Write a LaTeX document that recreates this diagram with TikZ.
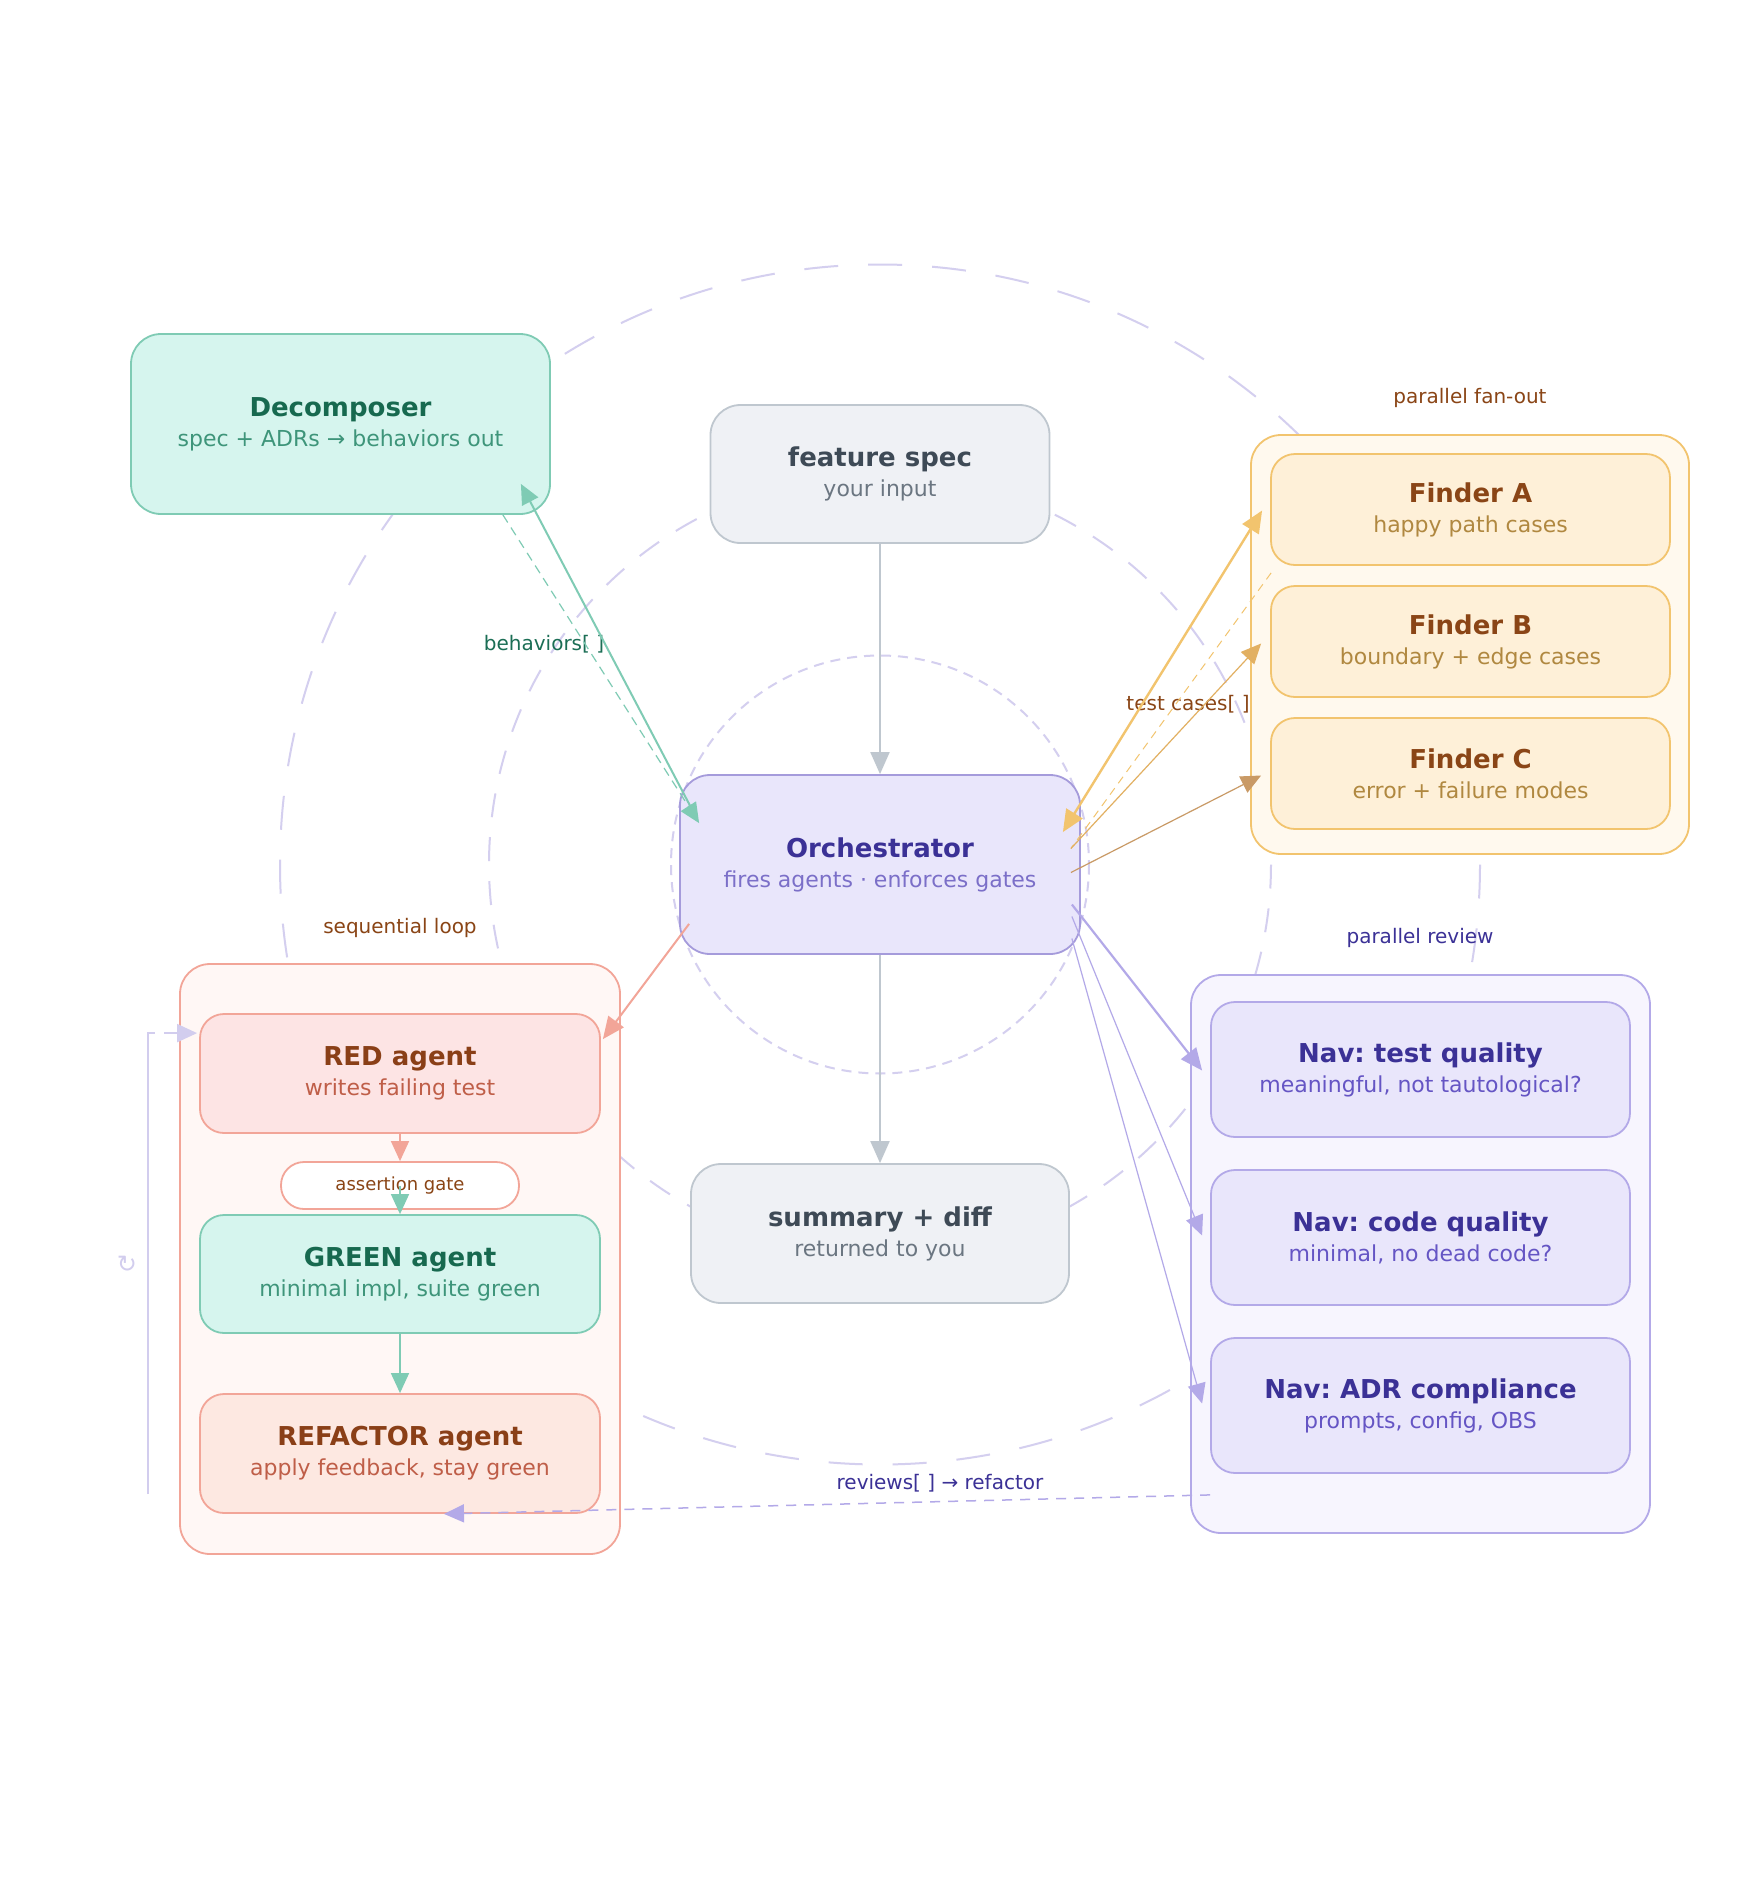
\documentclass[tikz,border=0pt]{standalone}
\usepackage{fontspec}
\setmainfont{DejaVu Sans}
\usetikzlibrary{arrows.meta,calc}
\pgfdeclarelayer{background}
\pgfsetlayers{background,main}
\frenchspacing
\definecolor{circc}{HTML}{D4CFEF}
\definecolor{decfill}{HTML}{D6F5EE}
\definecolor{greenln}{HTML}{7FCBB4}
\definecolor{dectitle}{HTML}{17694F}
\definecolor{decsub}{HTML}{3E957A}
\definecolor{specfill}{HTML}{EFF1F5}
\definecolor{specln}{HTML}{BFC7CF}
\definecolor{spectitle}{HTML}{3E4A56}
\definecolor{specsub}{HTML}{6B7681}
\definecolor{finfill}{HTML}{FFF9EE}
\definecolor{finln}{HTML}{F2C46E}
\definecolor{finbox}{HTML}{FEF0D8}
\definecolor{fintitle}{HTML}{8A4516}
\definecolor{finsub}{HTML}{B08840}
\definecolor{finBln}{HTML}{E2B062}
\definecolor{finCln}{HTML}{C99A66}
\definecolor{orchfill}{HTML}{E9E6FB}
\definecolor{orchln}{HTML}{A59BDB}
\definecolor{orchtitle}{HTML}{3B3196}
\definecolor{orchsub}{HTML}{7B6FC8}
\definecolor{seqfill}{HTML}{FFF7F5}
\definecolor{redln}{HTML}{F2A598}
\definecolor{redfill}{HTML}{FDE4E4}
\definecolor{refacfill}{HTML}{FDE8E1}
\definecolor{redtitle}{HTML}{8A3F17}
\definecolor{redsub}{HTML}{BF5E48}
\definecolor{navcfill}{HTML}{F7F5FE}
\definecolor{navln}{HTML}{B3A9E8}
\definecolor{navfill}{HTML}{E9E6FB}
\definecolor{navtitle}{HTML}{3B3196}
\definecolor{navsub}{HTML}{6555C4}
\definecolor{loopc}{HTML}{D2CDEE}
\definecolor{lblgreen}{HTML}{1B6E55}
\newcommand{\ttl}[2]{{\fontsize{26}{30}\selectfont\bfseries\color{#1}#2}}
\begin{document}
\begin{tikzpicture}[x=1pt,y=-1pt,
  bx/.style={draw, line width=1.8pt, align=center, inner sep=0pt, font=\fontsize{22}{30}\selectfont},
  bigbox/.style={bx, rounded corners=30pt},
  smallbox/.style={bx, rounded corners=24pt},
  contbox/.style={draw, line width=1.8pt, rounded corners=30pt, inner sep=0pt},
  lbl/.style={font=\fontsize{20}{24}\selectfont, inner sep=1pt},
  tip/.style={-{Triangle[length=22pt,width=19pt]}},
  stip/.style={-{Triangle[length=20pt,width=18pt]}},
]
\useasboundingbox (0,0) rectangle (1760,1880);

% containers
\node[contbox, fill=finfill, draw=finln, minimum width=438pt, minimum height=419pt] (fincont) at (1470,644.5) {};
\node[contbox, fill=seqfill, draw=redln, minimum width=440pt, minimum height=590pt] (seqcont) at (400,1259) {};
\node[contbox, fill=navcfill, draw=navln, minimum width=459pt, minimum height=558pt] (navcont) at (1420.5,1254) {};

% main boxes
\node[bigbox, fill=decfill, draw=greenln, text=decsub, minimum width=419pt, minimum height=180pt] (decomp) at (340.5,424) {\ttl{dectitle}{Decomposer}\\spec + ADRs → behaviors out};
\node[bigbox, fill=specfill, draw=specln, text=specsub, minimum width=339pt, minimum height=138pt] (spec) at (880,474) {\ttl{spectitle}{feature spec}\\your input};
\node[bigbox, fill=orchfill, draw=orchln, text=orchsub, minimum width=400pt, minimum height=179pt] (orch) at (880,864.5) {\ttl{orchtitle}{Orchestrator}\\fires agents · enforces gates};
\node[bigbox, fill=specfill, draw=specln, text=specsub, minimum width=378pt, minimum height=139pt] (summary) at (880,1233.5) {\ttl{spectitle}{summary + diff}\\returned to you};

% finders
\node[smallbox, fill=finbox, draw=finln, text=finsub, minimum width=399pt, minimum height=111pt] (finA) at (1470.5,509.5) {\ttl{fintitle}{Finder A}\\happy path cases};
\node[smallbox, fill=finbox, draw=finln, text=finsub, minimum width=399pt, minimum height=111pt] (finB) at (1470.5,641.5) {\ttl{fintitle}{Finder B}\\boundary + edge cases};
\node[smallbox, fill=finbox, draw=finln, text=finsub, minimum width=399pt, minimum height=111pt] (finC) at (1470.5,773.5) {\ttl{fintitle}{Finder C}\\error + failure modes};

% sequential loop
\node[smallbox, fill=redfill, draw=redln, text=redsub, minimum width=400pt, minimum height=119pt] (red) at (400,1073.5) {\ttl{redtitle}{RED agent}\\writes failing test};
\node[draw=redln, fill=white, line width=1.8pt, rounded corners=23pt, minimum width=238pt, minimum height=47pt, inner sep=0pt, text=fintitle, font=\fontsize{18}{22}\selectfont] (gate) at (400,1185.5) {assertion gate};
\node[smallbox, fill=decfill, draw=greenln, text=decsub, minimum width=400pt, minimum height=118pt] (green) at (400,1274) {\ttl{dectitle}{GREEN agent}\\minimal impl, suite green};
\node[smallbox, fill=refacfill, draw=redln, text=redsub, minimum width=400pt, minimum height=119pt] (refac) at (400,1453.5) {\ttl{redtitle}{REFACTOR agent}\\apply feedback, stay green};

% navigators
\node[smallbox, fill=navfill, draw=navln, text=navsub, minimum width=419pt, minimum height=135pt] (navT) at (1420.5,1069.5) {\ttl{navtitle}{Nav: test quality}\\meaningful, not tautological?};
\node[smallbox, fill=navfill, draw=navln, text=navsub, minimum width=419pt, minimum height=135pt] (navC) at (1420.5,1237.5) {\ttl{navtitle}{Nav: code quality}\\minimal, no dead code?};
\node[smallbox, fill=navfill, draw=navln, text=navsub, minimum width=419pt, minimum height=135pt] (navA) at (1420.5,1405.5) {\ttl{navtitle}{Nav: ADR compliance}\\prompts, config, OBS};

% labels
\node[lbl, text=fintitle] (fanlbl) at (1470,398) {parallel fan-out};
\node[lbl, text=navtitle] (revlbl) at (1420,938) {parallel review};
\node[lbl, text=fintitle] (seqlbl) at (400,928) {sequential loop};
\node[lbl, text=lblgreen] (behlbl) at (544,644) {behaviors[ ]};
\node[lbl, text=fintitle] (testlbl) at (1188,704) {test cases[ ]};
\node[lbl, text=navtitle] (reflbl) at (940,1483) {reviews[ ] → refactor};
\node[text=loopc, font=\fontsize{24}{26}\selectfont, inner sep=0pt] (loopsym) at (127,1264) {↻};

% background circles
\begin{pgfonlayer}{background}
\fill[white] (0,0) rectangle (1760,1880);
\draw[circc, line width=2pt, dash pattern=on 10pt off 7pt] (orch.center) circle[radius=209];
\draw[circc, line width=2pt, dash pattern=on 24pt off 20pt] (orch.center) circle[radius=391];
\draw[circc, line width=2pt, dash pattern=on 34pt off 30pt] (orch.center) circle[radius=600];
\end{pgfonlayer}

% connectors
\draw[tip, specln, line width=2pt] (spec.south) -- (orch.north);
\draw[tip, specln, line width=2pt] (orch.south) -- (summary.north);

\draw[stip, greenln, line width=2pt] ($(orch.north west)+(18,45)$) -- ($(decomp.south east)+(-30,-31)$);
\draw[stip, greenln, line width=1.2pt, dash pattern=on 9pt off 6pt] ($(decomp.south east)+(-48,0)$) -- ($(orch.north west)+(20,49)$);

\draw[{Triangle[length=22pt,width=19pt]}-{Triangle[length=22pt,width=19pt]}, finln, line width=2.4pt] ($(orch.north east)+(-18,58)$) -- ($(finA.west)+(-8,1)$);
\draw[finln, line width=1pt, dash pattern=on 8pt off 6pt] ($(finA.south west)+(1,7)$) -- ($(orch.east)+(-10,-16)$);
\draw[stip, finBln, line width=1.2pt] ($(orch.east)+(-10,-16)$) -- ($(finB.west)+(-9,2)$);
\draw[stip, finCln, line width=1.2pt] ($(orch.east)+(-10,8)$) -- ($(finC.west)+(-9,2)$);

\draw[tip, redln, line width=2pt] ($(orch.south west)+(10,-31)$) -- ($(red.north east)+(2,26)$);

\draw[tip, navln, line width=2.2pt] ($(orch.east)+(-9,40)$) -- ($(navT.west)+(-8,1)$);
\draw[stip, navln, line width=1.2pt] ($(orch.east)+(-9,52)$) -- ($(navC.west)+(-8,-2)$);
\draw[stip, navln, line width=1.2pt] ($(orch.east)+(-9,74)$) -- ($(navA.west)+(-8,-2)$);

\draw[stip, navln, line width=1.5pt, dash pattern=on 10pt off 8pt] ($(navA.south west)+(0,21)$) -- ($(refac.south)+(44,0)$);

\draw[stip, redln, line width=1.5pt] (red.south) -- (gate.north);
\draw[stip, greenln, line width=1.5pt] (gate.center) -- (green.north);
\draw[stip, greenln, line width=1.5pt] (green.south) -- (refac.north);

\coordinate (loopbot) at (148,1494);
\draw[stip, loopc, line width=2pt, dash pattern=on 468pt off 9pt on 100pt] (loopbot) |- ($(red.north west)+(-2,20)$);
\end{tikzpicture}
\end{document}
